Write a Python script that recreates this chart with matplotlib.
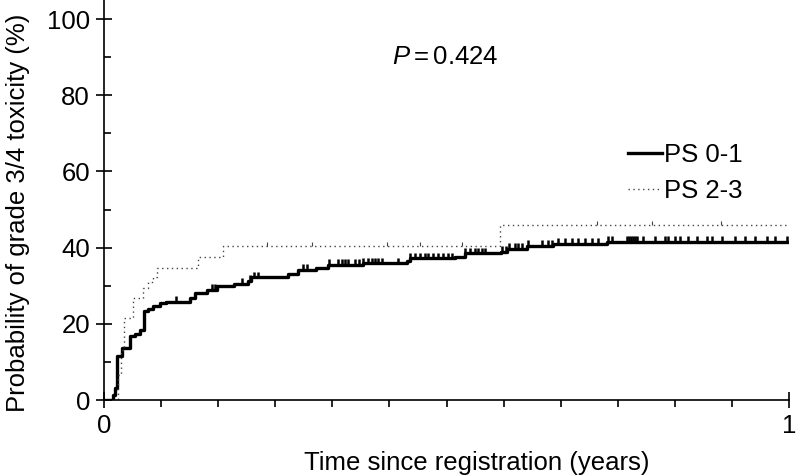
import numpy as np
import matplotlib
matplotlib.use('Agg')
import matplotlib.pyplot as plt

plt.rcParams['font.family'] = ['Liberation Sans', 'DejaVu Sans']
plt.rcParams['mathtext.fontset'] = 'custom'
plt.rcParams['mathtext.rm'] = 'Liberation Sans'
plt.rcParams['mathtext.it'] = 'Liberation Sans:italic'

# step curves: time (years) and cumulative probability (%)
t_ps01 = [0, 0.013, 0.016, 0.019, 0.026, 0.038, 0.045, 0.053, 0.058, 0.064,
          0.072, 0.082, 0.09, 0.125, 0.133, 0.15, 0.165, 0.19, 0.21, 0.215,
          0.268, 0.283, 0.31, 0.327, 0.378, 0.442, 0.447, 0.512, 0.527, 0.58,
          0.588, 0.617, 0.655, 0.735, 1.0]
y_ps01 = [0, 1.3, 3.1, 11.5, 13.6, 16.8, 17.3, 18.4, 23.4, 24.0,
          24.8, 25.5, 25.8, 26.7, 28.0, 28.9, 29.9, 30.4, 31.2, 32.2,
          33.0, 34.1, 34.6, 35.4, 35.9, 36.5, 37.2, 37.5, 38.5, 38.9,
          39.6, 40.4, 41.0, 41.6, 41.6]

t_ps23 = [0, 0.02, 0.025, 0.029, 0.042, 0.057, 0.064, 0.072, 0.077, 0.137,
          0.174, 0.578, 1.0]
y_ps23 = [0, 6.5, 13.0, 21.5, 26.7, 29.4, 31.0, 32.3, 34.6, 37.5,
          40.4, 46.0, 46.0]

# censored observations
cens_ps01 = [0.105, 0.158, 0.162, 0.201, 0.213, 0.219, 0.225, 0.291, 0.296,
             0.328, 0.342, 0.347, 0.352, 0.356, 0.366, 0.372, 0.378, 0.385,
             0.391, 0.396, 0.400, 0.406, 0.429, 0.447, 0.454, 0.461, 0.469,
             0.473, 0.480, 0.488, 0.495, 0.502, 0.508, 0.527, 0.534, 0.542,
             0.546, 0.552, 0.556, 0.581, 0.587, 0.591, 0.600, 0.604, 0.610,
             0.619, 0.639, 0.648, 0.654, 0.663, 0.673, 0.683, 0.692, 0.702,
             0.712, 0.721, 0.736, 0.742, 0.764, 0.766, 0.769, 0.772, 0.775,
             0.778, 0.787, 0.804, 0.819, 0.823, 0.834, 0.841, 0.853, 0.866,
             0.880, 0.888, 0.902, 0.921, 0.936, 0.950, 0.968, 0.980, 0.997]
cens_ps23 = [0.238, 0.304, 0.413, 0.461, 0.523, 0.72, 0.80, 0.90]

labels = ['PS 0-1', 'PS 2-3']
p_text = r'$P = 0.424$'

fs = 18.5


def step_value(t, y, c):
    idx = np.searchsorted(t, c, side='right') - 1
    return np.asarray(y)[idx]


fig = plt.figure(figsize=(7.96, 4.76), dpi=100)
ax = fig.add_axes([104/796, 76/476, 685/796, 400/476])

ax.step(t_ps01, y_ps01, where='post', color='black', lw=2.4, label=labels[0])
ax.step(t_ps23, y_ps23, where='post', color='#444444', lw=1.0,
        linestyle=(0, (1, 2.5)), label=labels[1])

c1 = np.array(cens_ps01)
v1 = step_value(t_ps01, y_ps01, c1)
ax.vlines(c1, v1, v1 + 1.5, color='black', lw=1.8)
c2 = np.array(cens_ps23)
v2 = step_value(t_ps23, y_ps23, c2)
ax.vlines(c2, v2, v2 + 1.0, color='#444444', lw=0.8)

ax.set_xlim(0, 1)
ax.set_ylim(0, 105)
ax.set_xticks([0, 1])
ax.set_xticks(np.arange(1, 12) / 12, minor=True)
ax.set_yticks([0, 20, 40, 60, 80, 100])
ax.set_yticks([10, 30, 50, 70, 90], minor=True)
ax.tick_params(which='major', direction='inout', length=12, width=1.2,
               labelsize=fs, pad=4)
ax.tick_params(axis='y', which='minor', direction='in', length=5, width=1.2)
ax.tick_params(axis='x', which='minor', direction='out', length=5, width=1.2)
ax.spines['top'].set_visible(False)
ax.spines['right'].set_visible(False)
ax.spines['left'].set_linewidth(1.2)
ax.spines['bottom'].set_linewidth(1.2)

ax.set_xlabel('Time since registration (years)', fontsize=fs)
ax.xaxis.set_label_coords(0.544, -0.127)
ax.set_ylabel('Probability of grade 3/4 toxicity (%)', fontsize=fs)
ax.yaxis.set_label_coords(-0.108, 0.4675)

ax.text(0.498, 90, p_text, fontsize=fs, ha='center', va='center')

fig.legend(loc='upper left', bbox_to_anchor=(628/796, 1 - 143/476),
           frameon=False, fontsize=fs, handlelength=1.32, handletextpad=0.08,
           labelspacing=0.45, borderpad=0, borderaxespad=0)

fig.savefig('out.png', dpi=100)
